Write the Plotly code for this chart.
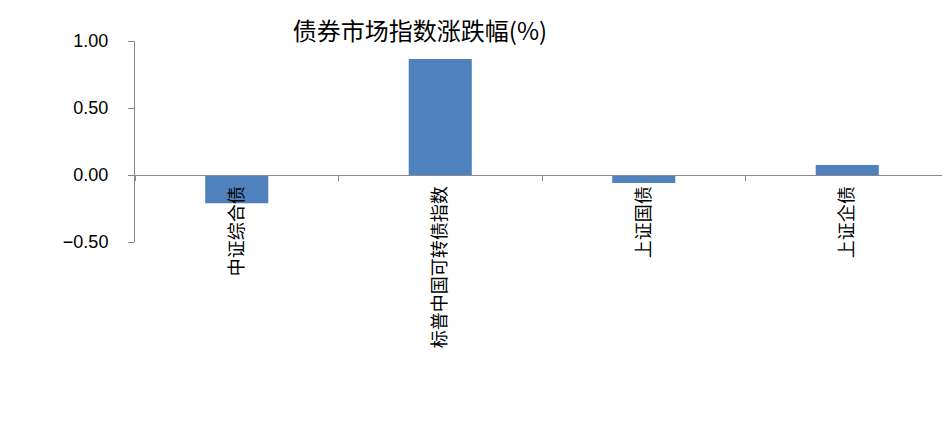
import plotly.graph_objects as go

categories = ["中证综合债", "标普中国可转债指数", "上证国债", "上证企债"]
values = [-0.21, 0.865, -0.06, 0.075]
y_tickvals = [-0.5, 0.0, 0.5, 1.0]
y_ticktext = ["−0.50", "0.00", "0.50", "1.00"]
title_text = "债券市场指数涨跌幅(%)"

# page body has an 8px default margin; compensate
OFF = 8
W, H = 950 - OFF, 421 - OFF
ymin, ymax = -0.5, 1.0

fig = go.Figure()
fig.add_trace(go.Bar(
    x=categories, y=values,
    marker=dict(color="#4F81BD", line=dict(width=0)),
    width=0.31,
))

fig.update_layout(
    width=W, height=H,
    margin=dict(l=135 - OFF, r=1, t=41 - OFF, b=179, autoexpand=False),
    paper_bgcolor="white", plot_bgcolor="white",
    showlegend=False,
    title=dict(text=title_text, x=(420 - OFF) / W, xanchor="center",
               y=1 - (32 - OFF) / H, yanchor="middle", yref="container",
               automargin=False,
               font=dict(family="Noto Sans CJK SC", size=24, color="#000000")),
    font=dict(family="Noto Sans CJK SC", color="#000000"),
)

fig.update_xaxes(
    type="category", range=[-0.5, 3.5], automargin=False,
    anchor="free", position=(0 - ymin) / (ymax - ymin),
    showline=True, linecolor="#898989", linewidth=1,
    ticks="outside", tickson="boundaries", ticklen=5, tickcolor="#898989",
    tickangle=-90, showgrid=False,
    tickfont=dict(family="Noto Sans CJK SC", size=18, color="#000000"),
    ticklabelstandoff=3,
)
fig.update_yaxes(
    range=[ymin, ymax], automargin=False,
    tickvals=y_tickvals, ticktext=y_ticktext,
    showline=True, linecolor="#898989", linewidth=1,
    ticks="outside", ticklen=6, tickcolor="#898989",
    showgrid=False, zeroline=False,
    tickfont=dict(family="Liberation Sans", size=18, color="#000000"),
    ticklabelstandoff=16,
)

fig.write_html("out.html")
